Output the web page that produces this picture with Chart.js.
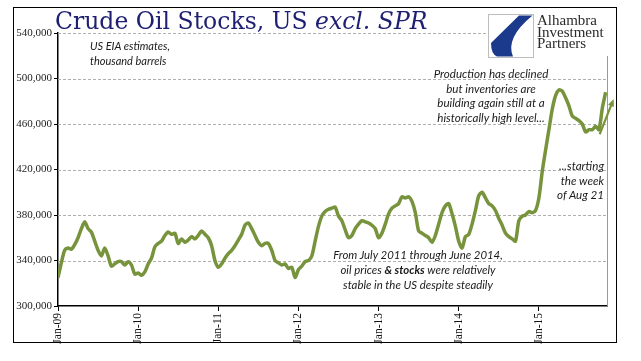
<!DOCTYPE html>
<html>
<head>
<meta charset="utf-8">
<script src="https://cdn.jsdelivr.net/npm/chart.js@4.4.1/dist/chart.umd.min.js"></script>
<style>
  html, body { margin: 0; padding: 0; background: #fff; }
  #wrap { position: relative; width: 641px; height: 361px; overflow: hidden; }
  #frame { position: absolute; left: 13px; top: 7px; width: 604px; height: 336px; border: 1.5px solid #000; box-sizing: border-box; }
  #chart { position: absolute; left: 0; top: 0; }
  .txt { position: absolute; white-space: nowrap; }
  #title { left: 55px; top: 10px; font: 23.5px/23.5px "DejaVu Serif", serif; color: #1f1f72; }
  .note { font-family: Lato, "Open Sans", sans-serif; font-style: italic; color: #1a1a1a; }
  #logo { position: absolute; left: 487px; top: 12px; width: 121px; height: 44px; background: #fff; }
  #logo svg { position: absolute; left: 1px; top: 2px; }
  #logoText { position: absolute; left: 50px; top: 3px; font: 15px/11.6px "Liberation Serif", serif; color: #2a2a2a; }
</style>
</head>
<body>
<div id="wrap">
  <div id="frame"></div>
  <canvas id="chart" width="641" height="361"></canvas>
  <div class="txt" id="title">Crude Oil Stocks, US <i>excl. SPR</i></div>
  <div class="txt note" style="left:90px; top:38px; font-size:11px; line-height:15px;">US EIA estimates,<br>thousand barrels</div>
  <div class="txt note" style="left:431px; width:120px; top:67px; font-size:11.6px; line-height:14.7px; text-align:center;">Production has declined<br>but inventories are<br>building again still at a<br>historically high level...</div>
  <div class="txt note" style="left:544px; width:60px; top:159px; font-size:11.6px; line-height:14.5px; text-align:right;">...starting<br>the week<br>of Aug 21</div>
  <div class="txt note" style="left:318px; width:200px; top:246.5px; font-size:11.4px; line-height:15px; text-align:center;">From July 2011 through June 2014,<br>oil prices <b>&amp; stocks</b> were relatively<br>stable in the US despite steadily</div>
  <div id="logo">
    <svg width="46" height="44" viewBox="0 0 46 44">
      <rect x="0.5" y="0.5" width="45" height="43" fill="#fff" stroke="#bdbdbd"/>
      <path d="M44.5,1.5 L31,1.5 L3,29 Q3,40 9,42.5 L25,42.5 Q17,24 44.5,1.5 Z" fill="#1b3a8c"/>
    </svg>
    <div id="logoText">Alhambra<br>Investment<br>Partners</div>
  </div>
</div>
<script>
// weekly EIA stocks, one value per half month from Jan-09 (thousand barrels)
const halfMonth = 0.5;
const stocks = [
  325, 338, 349, 351, 350, 354, 360, 368, 374, 368, 365, 357, 349, 344, 351, 344, 335, 337, 339, 339, 336, 339, 336, 328,
  329, 327, 330, 337, 342, 352, 355, 357, 362, 365, 363, 364, 355, 359, 356, 358, 361, 359, 362, 366, 363, 360, 353, 340,
  334, 337, 342, 346, 349, 353, 358, 363, 371, 373, 368, 362, 356, 353, 355, 355, 349, 340, 338, 336, 337, 333, 334, 325,
  332, 335, 339, 340, 344, 357, 370, 379, 383, 385, 386, 387, 379, 375, 367, 360, 362, 368, 372, 375, 374, 373, 371, 368,
  360, 364, 372, 381, 386, 388, 390, 396, 395, 396, 392, 382, 366, 364, 362, 360, 356, 362, 372, 382, 388, 390, 381, 370,
  357, 351, 361, 363, 372, 384, 397, 400, 395, 390, 388, 384, 377, 371, 364, 361, 359, 357, 375, 379, 380, 383, 382, 384,
  395, 418, 437, 455, 473, 485, 490, 489, 483, 476, 467, 465, 463, 460, 453, 455, 455, 458, 455, 474, 488
];
const xTickLabels = ['Jan-09', 'Jan-10', 'Jan-11', 'Jan-12', 'Jan-13', 'Jan-14', 'Jan-15'];
const yTicks = [300000, 340000, 380000, 420000, 460000, 500000, 540000];

// arrow next to the end of the line (months since Jan-09, barrels)
const arrowFrom = { x: 81.1, y: 451000 };
const arrowTo = { x: 83.2, y: 482000 };

const olive = '#77933c';

const decor = {
  id: 'decor',
  beforeDatasetsDraw(chart) {
    const { ctx, chartArea: a, scales: { y } } = chart;
    ctx.save();
    ctx.strokeStyle = '#b0b0b0';
    ctx.lineWidth = 1;
    ctx.setLineDash([3, 2]);
    yTicks.slice(1).forEach(v => {
      const py = Math.round(y.getPixelForValue(v)) + 0.5;
      ctx.beginPath();
      ctx.moveTo(a.left, py);
      ctx.lineTo(a.right, py);
      ctx.stroke();
    });
    ctx.setLineDash([]);
    ctx.strokeStyle = '#999';
    ctx.beginPath();
    ctx.moveTo(Math.round(a.right) + 0.5, a.top);
    ctx.lineTo(Math.round(a.right) + 0.5, a.bottom);
    ctx.stroke();
    ctx.restore();
  },
  afterDatasetsDraw(chart) {
    const { ctx, scales: { x, y } } = chart;
    const x0 = x.getPixelForValue(arrowFrom.x), y0 = y.getPixelForValue(arrowFrom.y);
    const x1 = x.getPixelForValue(arrowTo.x), y1 = y.getPixelForValue(arrowTo.y);
    const ang = Math.atan2(y1 - y0, x1 - x0);
    const head = 8;
    ctx.save();
    ctx.strokeStyle = olive;
    ctx.fillStyle = olive;
    ctx.lineWidth = 2.2;
    ctx.beginPath();
    ctx.moveTo(x0, y0);
    ctx.lineTo(x1 - Math.cos(ang) * head * 0.7, y1 - Math.sin(ang) * head * 0.7);
    ctx.stroke();
    ctx.beginPath();
    ctx.moveTo(x1, y1);
    ctx.lineTo(x1 - head * Math.cos(ang - 0.4), y1 - head * Math.sin(ang - 0.4));
    ctx.lineTo(x1 - head * Math.cos(ang + 0.4), y1 - head * Math.sin(ang + 0.4));
    ctx.closePath();
    ctx.fill();
    ctx.restore();
  }
};

new Chart(document.getElementById('chart'), {
  type: 'line',
  data: {
    datasets: [{
      data: stocks.map((v, i) => ({ x: i * halfMonth, y: v * 1000 })),
      borderColor: olive,
      borderWidth: 3.5,
      pointRadius: 0,
      tension: 0.25,
      fill: false
    }]
  },
  options: {
    responsive: false,
    animation: false,
    layout: { padding: { left: 0, top: 33, right: 34, bottom: 0 } },
    plugins: { legend: { display: false }, tooltip: { enabled: false } },
    scales: {
      x: {
        type: 'linear',
        min: 0,
        max: 82.2,
        afterBuildTicks: s => { s.ticks = xTickLabels.map((_, i) => ({ value: i * 12 })); },
        afterFit: s => { s.height = 55; },
        ticks: {
          autoSkip: false,
          minRotation: 90,
          maxRotation: 90,
          padding: 2,
          color: '#111',
          font: { family: 'Liberation Serif', size: 11.5 },
          callback: v => xTickLabels[Math.round(v / 12)] || ''
        },
        grid: { drawOnChartArea: false, color: '#000', tickLength: 5 },
        border: { color: '#000', width: 1.5 }
      },
      y: {
        min: 300000,
        max: 540000,
        afterBuildTicks: s => { s.ticks = yTicks.map(v => ({ value: v })); },
        afterFit: s => { s.width = 58; },
        ticks: {
          padding: 2,
          color: '#222',
          font: { family: 'Liberation Serif', size: 11 },
          callback: v => v.toLocaleString('en-US')
        },
        grid: { drawOnChartArea: false, color: '#000', tickLength: 4 },
        border: { color: '#000', width: 1.5 }
      }
    }
  },
  plugins: [decor]
});
</script>
</body>
</html>
